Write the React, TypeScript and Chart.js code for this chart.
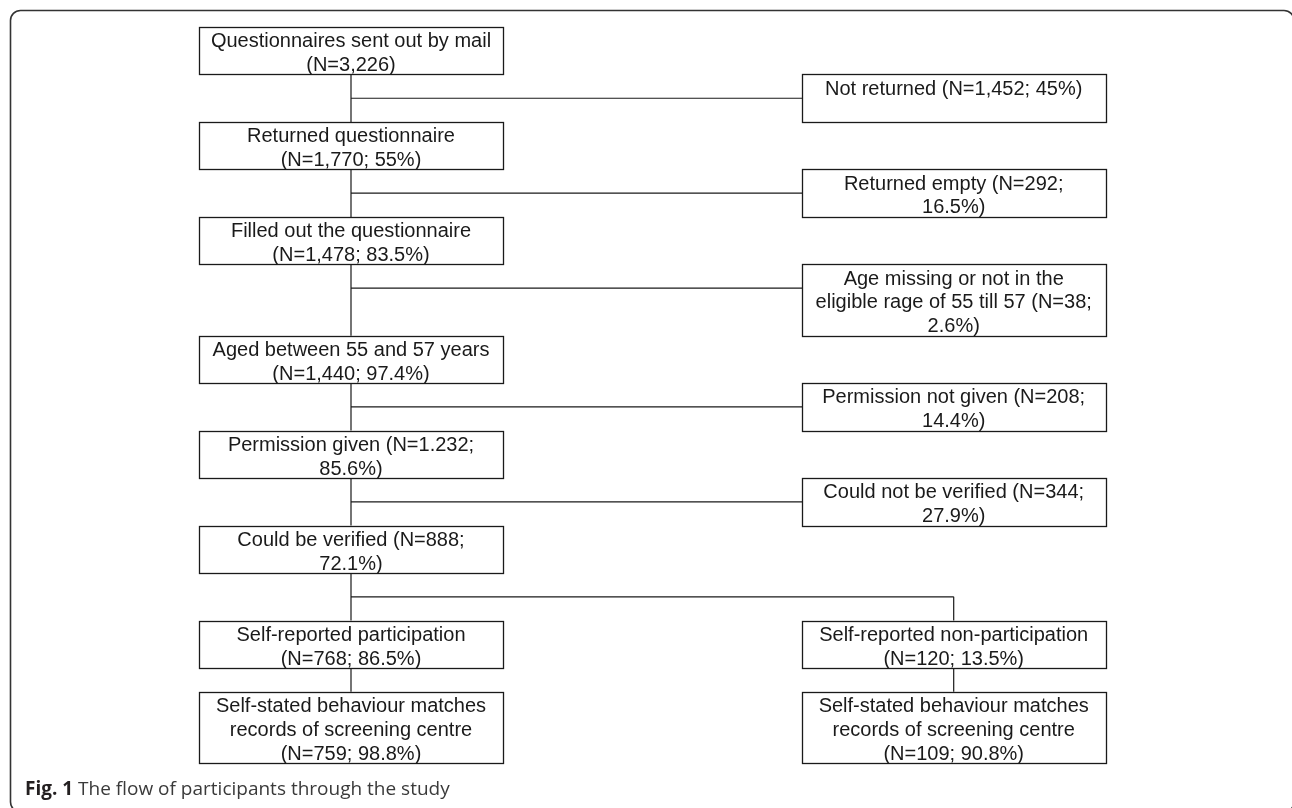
import React, { useEffect, useRef } from "react";
import { Chart, registerables } from "chart.js";

Chart.register(...registerables);

// ---------- data ----------
const mainSteps: string[][] = [
  ["Questionnaires sent out by mail", "(N=3,226)"],
  ["Returned questionnaire", "(N=1,770; 55%)"],
  ["Filled out the questionnaire", "(N=1,478; 83.5%)"],
  ["Aged between 55 and 57 years", "(N=1,440; 97.4%)"],
  ["Permission given (N=1.232;", "85.6%)"],
  ["Could be verified (N=888;", "72.1%)"],
];

const exclusions: string[][] = [
  ["Not returned (N=1,452; 45%)"],
  ["Returned empty (N=292;", "16.5%)"],
  ["Age missing or not in the", "eligible rage of 55 till 57 (N=38;", "2.6%)"],
  ["Permission not given (N=208;", "14.4%)"],
  ["Could not be verified (N=344;", "27.9%)"],
];

const groups: string[][] = [
  ["Self-reported participation", "(N=768; 86.5%)"],
  ["Self-reported non-participation", "(N=120; 13.5%)"],
];

const outcomes: string[][] = [
  ["Self-stated behaviour matches", "records of screening centre", "(N=759; 98.8%)"],
  ["Self-stated behaviour matches", "records of screening centre", "(N=109; 90.8%)"],
];

const captionBold = "Fig. 1";
const captionText = " The flow of participants through the study";

// ---------- styles ----------
const W = 1292;
const H = 808;
const BOX_W = 304;
const INK = "#1a1a1a";
const BOX_FONT = "20px 'Liberation Sans', Arial, sans-serif";

// ---------- layout (in scale units: x = column, y = text rows) ----------
type Box = { col: number; top: number; rows: number; lines: string[] };
type Seg = [number, number, number, number];

function buildLayout() {
  const boxes: Box[] = [];
  const segs: Seg[] = [];
  const rowsOf = (l: string[]) => Math.max(2, l.length);
  let y = 0;
  mainSteps.forEach((lines, i) => {
    const r = rowsOf(lines);
    boxes.push({ col: 0, top: y, rows: r, lines });
    y += r;
    const ex = exclusions[i];
    if (ex) {
      const er = rowsOf(ex);
      boxes.push({ col: 1, top: y, rows: er, lines: ex });
      segs.push([0, y, 0, y + er]); // trunk to next step
      segs.push([0, y + 1, 1, y + 1]); // branch to exclusion
      y += er;
    }
  });
  // split into two groups
  const splitY = y + 1;
  segs.push([0, y, 0, y + 2]);
  segs.push([0, splitY, 1, splitY]);
  segs.push([1, splitY, 1, y + 2]);
  y += 2;
  const gr = Math.max(...groups.map(rowsOf));
  groups.forEach((lines, c) => boxes.push({ col: c, top: y, rows: gr, lines }));
  y += gr;
  segs.push([0, y, 0, y + 1]);
  segs.push([1, y, 1, y + 1]);
  y += 1;
  const orows = Math.max(...outcomes.map(rowsOf));
  outcomes.forEach((lines, c) => boxes.push({ col: c, top: y, rows: orows, lines }));
  y += orows;
  return { boxes, segs, total: y };
}

export default function App() {
  const ref = useRef<HTMLCanvasElement | null>(null);

  useEffect(() => {
    document.body.style.margin = "0";
    const canvas = ref.current;
    if (!canvas) return;
    const { boxes, segs, total } = buildLayout();

    const flowPlugin = {
      id: "flowBoxes",
      beforeDraw(chart: any) {
        const { ctx } = chart;
        ctx.save();
        ctx.fillStyle = "#ffffff";
        ctx.fillRect(0, 0, chart.width, chart.height);
        // outer rounded frame (runs off the right and bottom edges)
        ctx.strokeStyle = "#333333";
        ctx.lineWidth = 1.6;
        ctx.beginPath();
        (ctx as any).roundRect(10.5, 10.5, W + 2 - 10.5, H + 4 - 10.5, 10);
        ctx.stroke();
        ctx.restore();
      },
      afterDatasetsDraw(chart: any) {
        const { ctx } = chart;
        const xs = chart.scales.x;
        const ys = chart.scales.y;
        ctx.save();
        for (const b of boxes) {
          const cx = xs.getPixelForValue(b.col);
          const top = Math.round(ys.getPixelForValue(b.top)) + 0.5;
          const bottom = Math.round(ys.getPixelForValue(b.top + b.rows)) + 0.5;
          const left = Math.round(cx - BOX_W / 2) + 0.5;
          ctx.fillStyle = "#ffffff";
          ctx.fillRect(left, top, BOX_W, bottom - top);
          ctx.strokeStyle = INK;
          ctx.lineWidth = 1.3;
          ctx.strokeRect(left, top, BOX_W, bottom - top);
          ctx.fillStyle = INK;
          ctx.font = BOX_FONT;
          ctx.textAlign = "center";
          ctx.textBaseline = "alphabetic";
          b.lines.forEach((t, i) => {
            ctx.fillText(t, cx, ys.getPixelForValue(b.top + i + 1) - 3.5);
          });
        }
        // caption
        ctx.textAlign = "left";
        ctx.fillStyle = "#231f20";
        ctx.font = "bold 19px 'Open Sans', sans-serif";
        ctx.fillText(captionBold, 25, 795);
        const w = ctx.measureText(captionBold).width;
        ctx.fillStyle = "#3a3a3a";
        ctx.font = "19px 'Open Sans', sans-serif";
        ctx.fillText(captionText, 25 + w, 795);
        ctx.restore();
      },
    };

    const datasets = segs.map((s) => ({
      type: "scatter" as const,
      data: [
        { x: s[0], y: s[1] },
        { x: s[2], y: s[3] },
      ],
      showLine: true,
      borderColor: INK,
      borderWidth: 1.2,
      pointRadius: 0,
      fill: false,
      clip: false as any,
    }));

    const chart = new Chart(canvas, {
      type: "scatter",
      data: { datasets },
      options: {
        responsive: false,
        animation: false,
        events: [],
        layout: {
          padding: { left: 351, right: W - 953.7, top: 27, bottom: H - 763 },
        },
        plugins: {
          legend: { display: false },
          tooltip: { enabled: false },
          title: { display: false },
        },
        scales: {
          x: { type: "linear", min: 0, max: 1, display: false },
          y: { type: "linear", min: 0, max: total, reverse: true, display: false },
        },
      },
      plugins: [flowPlugin],
    });

    if ((document as any).fonts && (document as any).fonts.ready) {
      (document as any).fonts.ready.then(() => chart.draw());
    }

    return () => chart.destroy();
  }, []);

  return (
    <div style={{ width: W, height: H, overflow: "hidden" }}>
      <canvas ref={ref} width={W} height={H} style={{ display: "block" }} />
    </div>
  );
}
